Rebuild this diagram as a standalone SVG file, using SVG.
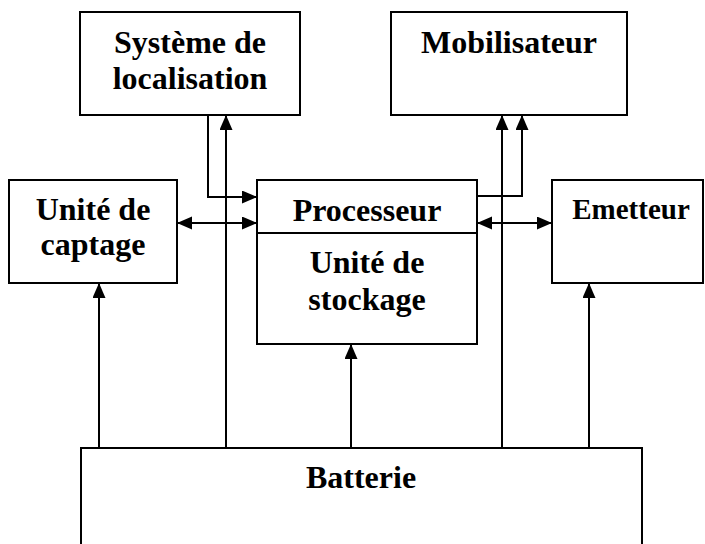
<svg xmlns="http://www.w3.org/2000/svg" width="705" height="544" viewBox="0 0 705 544">
<style>
.box{fill:#fff;stroke:#000;stroke-width:2}
.t{font-family:"Liberation Serif","Times New Roman",serif;font-weight:bold;font-size:32px;fill:#000;text-anchor:middle}
.c{fill:none;stroke:#000;stroke-width:2}
</style>
<defs>
<marker id="ah" markerUnits="userSpaceOnUse" markerWidth="16" markerHeight="14" refX="15" refY="6.5" orient="auto-start-reverse" viewBox="0 0 16 14">
<path d="M0,0 L15,6.5 L0,13 z" fill="#000"/>
</marker>
</defs>
<rect width="705" height="544" fill="#fff"/>
<g id="connectors">
<path class="c" d="M208,115 V197 H257" marker-end="url(#ah)"/>
<path class="c" d="M226,448 V115" marker-end="url(#ah)"/>
<path class="c" d="M177,223 H257" marker-start="url(#ah)" marker-end="url(#ah)"/>
<path class="c" d="M477,196 H522 V115" marker-end="url(#ah)"/>
<path class="c" d="M502,448 V115" marker-end="url(#ah)"/>
<path class="c" d="M477,223 H552" marker-start="url(#ah)" marker-end="url(#ah)"/>
<path class="c" d="M99,448 V283" marker-end="url(#ah)"/>
<path class="c" d="M351,448 V344" marker-end="url(#ah)"/>
<path class="c" d="M589,448 V283" marker-end="url(#ah)"/>
</g>
<g id="localisation">
<rect class="box" x="80" y="12" width="220" height="103"/>
<text class="t" x="190" y="53">Système de</text>
<text class="t" x="190" y="89">localisation</text>
</g>
<g id="mobilisateur">
<rect class="box" x="391" y="12" width="236" height="103"/>
<text class="t" x="509" y="53">Mobilisateur</text>
</g>
<g id="captage">
<rect class="box" x="9" y="180" width="168" height="103"/>
<text class="t" x="93" y="220">Unité de</text>
<text class="t" x="93" y="255">captage</text>
</g>
<g id="processeur">
<rect class="box" x="257" y="180" width="220" height="164"/>
<line x1="257" y1="233" x2="477" y2="233" stroke="#000" stroke-width="2"/>
<text class="t" x="367" y="221">Processeur</text>
<text class="t" x="367" y="273">Unité de</text>
<text class="t" x="367" y="310">stockage</text>
</g>
<g id="emetteur">
<rect class="box" x="552" y="180" width="151" height="103"/>
<text class="t" x="631" y="219" style="font-size:29px">Emetteur</text>
</g>
<g id="batterie">
<rect class="box" x="81" y="448" width="561" height="110"/>
<text class="t" x="361" y="488">Batterie</text>
</g>
</svg>
